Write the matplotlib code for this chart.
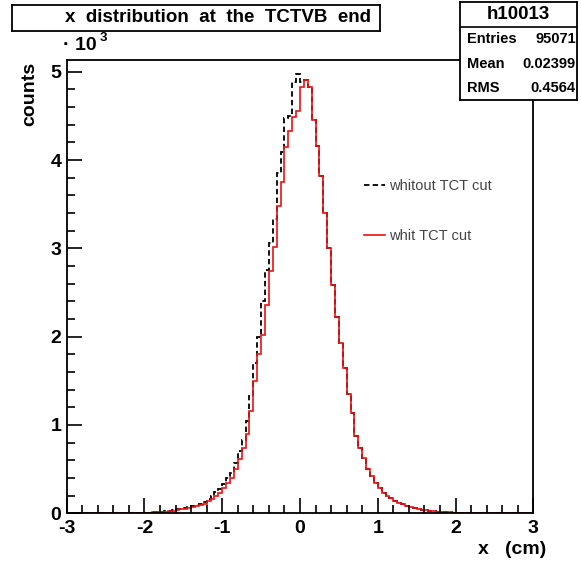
import numpy as np
import matplotlib
matplotlib.use("Agg")
import matplotlib.pyplot as plt

plt.rcParams['font.family'] = ['Liberation Sans', 'DejaVu Sans']
plt.rcParams['axes.unicode_minus'] = False

# histogram range and binning (120 bins of 0.05 cm)
x_min, x_max, n_bins = -3.0, 3.0, 120

# counts per bin, 10 bins (0.5 cm) per line, starting at x = -3
counts_nocut = [
    0, 0, 0, 0, 0, 0, 0, 0, 0, 0,
    1, 1, 1, 2, 2, 2, 3, 3, 4, 5,
    6, 8, 10, 13, 17, 22, 30, 38, 45, 52,
    60, 70, 80, 95, 110, 130, 165, 200, 240, 270,
    330, 400, 460, 570, 700, 830, 1050, 1330, 1700, 2000,
    2400, 2760, 3060, 3330, 3850, 4090, 4480, 4500, 4880, 4980,
    4880, 4910, 4830, 4450, 4160, 3820, 3400, 3000, 2590, 2220,
    1930, 1640, 1355, 1140, 880, 740, 627, 500, 420, 340,
    285, 228, 195, 170, 137, 115, 100, 80, 68, 57,
    48, 40, 33, 27, 22, 18, 15, 12, 10, 8,
    6, 5, 4, 3, 3, 2, 2, 2, 1, 1,
    1, 1, 0, 1, 0, 0, 0, 0, 0, 0,
]
counts_cut = [
    0, 0, 0, 0, 0, 0, 0, 0, 0, 0,
    1, 0, 1, 1, 1, 2, 2, 2, 3, 4,
    6, 8, 10, 12, 15, 20, 25, 30, 40, 45,
    50, 60, 70, 80, 95, 110, 140, 165, 200, 230,
    290, 340, 400, 500, 620, 740, 900, 1160, 1500, 1800,
    2020, 2360, 2740, 3020, 3480, 3750, 4150, 4330, 4490, 4560,
    4830, 4910, 4830, 4450, 4160, 3820, 3400, 3000, 2590, 2220,
    1930, 1640, 1355, 1140, 880, 740, 627, 500, 420, 340,
    285, 228, 195, 170, 137, 115, 100, 80, 68, 57,
    48, 40, 33, 27, 22, 18, 15, 12, 10, 8,
    6, 5, 4, 3, 3, 2, 2, 2, 1, 1,
    1, 1, 0, 1, 0, 0, 0, 0, 0, 0,
]

hist_name = "h10013"
stats_labels = ["Entries", "Mean", "RMS"]
stats_values = ["95071", "0.02399", "0.4564"]
legend_labels = ["whitout TCT cut", "whit TCT cut"]

W, H = 581, 564
fig = plt.figure(figsize=(W / 100, H / 100), dpi=100)
fig.patch.set_facecolor("white")

# main axes in pixel coordinates of the reference
ax_l, ax_r, ax_t, ax_b = 66.7, 533.3, 60.0, 513.3
ax = fig.add_axes([ax_l / W, 1 - ax_b / H, (ax_r - ax_l) / W, (ax_b - ax_t) / H])

edges = np.linspace(x_min, x_max, n_bins + 1)
ax.stairs(np.array(counts_nocut) / 1000, edges, color="black", lw=1.3,
          linestyle=(0, (3, 1.8)), label=legend_labels[0])
ax.stairs(np.array(counts_cut) / 1000, edges, color="#ee1111", lw=1.2,
          label=legend_labels[1])

ax.set_xlim(x_min, x_max)
ax.set_ylim(0, 5.133)
ax.set_xticks(np.arange(-3, 4, 1))
ax.set_xticks(np.arange(-3, 3.01, 0.2), minor=True)
ax.set_yticks(np.arange(0, 6, 1))
ax.set_yticks(np.arange(0, 5.1, 0.2), minor=True)
ax.tick_params(which="both", direction="in", top=False, right=False, width=1.2)
ax.tick_params(which="major", length=11, labelsize=14)
ax.tick_params(axis="x", which="major", pad=5)
ax.tick_params(axis="y", which="major", pad=4)
ax.tick_params(which="minor", length=5.5)
for lab in ax.get_xticklabels() + ax.get_yticklabels():
    lab.set_fontweight("bold")
for s in ax.spines.values():
    s.set_linewidth(1.3)

# legend rows sit at about y = 186 and 235 px
leg = ax.legend(loc="upper left", bbox_to_anchor=(0.638, 0.7365), frameon=False,
                fontsize=10.5, handlelength=1.4, handletextpad=0.3,
                labelspacing=2.45, borderpad=0, borderaxespad=0)
for t in leg.get_texts():
    t.set_color("#444444")

# axis labels and multiplier
fig.text(30 / W, 1 - 94 / H, "counts", rotation=90, ha="center", va="center",
         fontsize=14, fontweight="bold")
fig.text(546 / W, 1 - 549 / H, "x   (cm)", ha="right", va="center",
         fontsize=14, fontweight="bold")
fig.text(63 / W, 1 - 46 / H, "\u00b7 10", ha="left", va="center",
         fontsize=14, fontweight="bold")
fig.text(100 / W, 1 - 38 / H, "3", ha="left", va="center",
         fontsize=9.5, fontweight="bold")

# title box
tax = fig.add_axes([12 / W, 1 - 31 / H, 368 / W, 26 / H])
tax.set_xticks([])
tax.set_yticks([])
for s in tax.spines.values():
    s.set_linewidth(1.3)
tax.text(0.56, 0.5, "x  distribution  at  the  TCTVB  end", ha="center",
         va="center", fontsize=13.5, fontweight="bold", transform=tax.transAxes)

# statistics box
sx0, sy0, sw, sh = 460, 2, 117, 98
sax = fig.add_axes([sx0 / W, 1 - (sy0 + sh) / H, sw / W, sh / H])
sax.set_xlim(0, sw)
sax.set_ylim(sh, 0)
sax.set_xticks([])
sax.set_yticks([])
sax.set_facecolor("white")
for s in sax.spines.values():
    s.set_linewidth(1.3)
sax.axhline(25, color="black", lw=1.2)
sax.text(sw / 2, 12.5, hist_name, ha="center", va="center", fontsize=13.5,
         fontweight="bold")
for k, (lab, val) in enumerate(zip(stats_labels, stats_values)):
    y = 37 + 24.5 * k
    sax.text(7, y, lab, ha="left", va="center", fontsize=10.5, fontweight="bold")
    sax.text(sw - 1, y, val, ha="right", va="center", fontsize=10.5,
             fontweight="bold")

fig.savefig("out.png", dpi=100)
